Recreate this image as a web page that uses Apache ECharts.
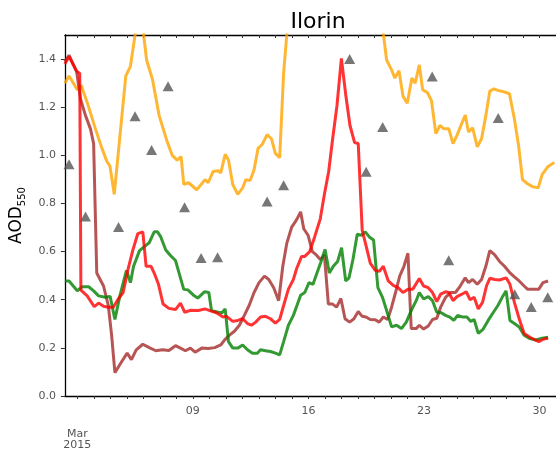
<!DOCTYPE html>
<html>
<head>
<meta charset="utf-8">
<script src="https://cdn.jsdelivr.net/npm/echarts@6/dist/echarts.min.js"></script>
<style>html,body{margin:0;padding:0;background:#fff;}#c{width:556px;height:451px;}</style>
</head>
<body>
<div id="c"></div>
<script>
// ---- data (x = day of March 2015, y = AOD550) ----
const orangeX = [1.25,1.50,2.00,2.24,2.60,3.10,3.49,3.79,3.98,4.24,4.94,5.22,5.50,5.75,6.02,6.20,6.56,6.96,7.45,7.75,8.05,8.29,8.45,8.74,9.24,9.74,9.93,10.23,10.53,10.69,10.96,11.16,11.42,11.72,12.02,12.21,12.47,12.71,12.95,13.20,13.50,13.76,14.00,14.26,14.50,14.69,15.0,16.0,17.0,18.0,19.0,20.0,20.55,20.74,21.04,21.24,21.49,21.73,21.99,22.27,22.47,22.72,22.92,23.22,23.46,23.72,23.97,24.21,24.51,24.76,25.00,25.24,25.50,25.70,25.95,26.23,26.49,26.75,26.99,27.24,27.48,27.88,28.18,28.48,28.73,28.97,29.27,29.61,29.92,30.16,30.52,30.9];
const orangeY = [1.30,1.33,1.273,1.29,1.22,1.11,1.03,0.975,0.955,0.838,1.33,1.37,1.50,1.65,1.50,1.396,1.314,1.165,1.056,1.00,0.98,0.995,0.879,0.886,0.857,0.899,0.886,0.933,0.936,0.927,1.004,0.981,0.879,0.838,0.865,0.899,0.895,0.94,1.029,1.045,1.086,1.069,1.008,0.99,1.342,1.50,1.75,1.95,2.05,2.0,1.9,1.7,1.50,1.396,1.355,1.321,1.352,1.246,1.216,1.321,1.30,1.376,1.273,1.26,1.226,1.09,1.124,1.11,1.11,1.049,1.083,1.124,1.167,1.097,1.114,1.035,1.069,1.165,1.267,1.276,1.27,1.263,1.256,1.151,1.042,0.899,0.882,0.869,0.865,0.92,0.954,0.97];

const redX = [1.25,1.50,1.96,2.15,2.22,2.60,3.03,3.29,3.59,3.88,4.18,4.48,4.78,5.07,5.37,5.67,5.97,6.17,6.47,6.66,6.92,7.20,7.55,7.95,8.25,8.51,8.85,9.34,9.74,10.03,10.43,10.83,11.02,11.42,11.72,12.02,12.31,12.55,12.81,13.10,13.40,13.70,14.00,14.26,14.50,14.79,15.09,15.29,15.59,15.78,16.08,16.38,16.72,16.97,17.23,17.47,17.73,18.00,18.26,18.52,18.80,19.02,19.26,19.51,19.75,20.05,20.30,20.54,20.84,21.14,21.43,21.73,22.03,22.33,22.72,22.98,23.26,23.52,23.78,24.01,24.31,24.51,24.76,25.00,25.30,25.56,25.80,26.04,26.29,26.55,26.79,26.99,27.29,27.58,27.98,28.21,28.48,28.77,29.07,29.47,29.96,30.26,30.52];
const redY = [1.38,1.41,1.35,1.34,0.44,0.416,0.371,0.386,0.373,0.369,0.369,0.403,0.43,0.525,0.607,0.675,0.682,0.539,0.539,0.511,0.464,0.382,0.364,0.359,0.386,0.348,0.356,0.355,0.362,0.355,0.346,0.328,0.332,0.31,0.314,0.321,0.301,0.294,0.307,0.328,0.331,0.321,0.303,0.318,0.376,0.444,0.484,0.530,0.58,0.58,0.60,0.661,0.736,0.838,0.933,1.069,1.205,1.403,1.253,1.124,1.053,1.049,0.689,0.62,0.552,0.522,0.518,0.539,0.478,0.46,0.45,0.43,0.444,0.444,0.488,0.457,0.45,0.43,0.392,0.423,0.433,0.43,0.396,0.413,0.423,0.433,0.40,0.41,0.362,0.389,0.457,0.489,0.484,0.482,0.491,0.464,0.389,0.321,0.26,0.242,0.226,0.237,0.24];

const greenX = [1.25,1.50,2.00,2.30,2.69,2.99,3.29,3.69,3.99,4.28,4.58,4.98,5.22,5.41,5.77,6.17,6.36,6.66,6.86,7.06,7.36,7.66,7.95,8.25,8.45,8.70,9.04,9.30,9.70,9.97,10.13,10.53,10.77,10.96,11.16,11.42,11.72,12.02,12.31,12.61,12.91,13.10,13.40,13.70,14.00,14.26,14.50,14.79,15.09,15.33,15.53,15.78,16.04,16.28,16.52,16.77,17.01,17.27,17.51,17.77,18.01,18.26,18.46,18.70,18.96,19.21,19.45,19.69,19.95,20.21,20.49,20.74,21.04,21.34,21.64,21.93,22.23,22.53,22.72,22.98,23.26,23.52,23.78,24.05,24.31,24.57,24.81,25.04,25.36,25.60,25.84,26.04,26.29,26.59,26.89,27.19,27.48,27.74,27.98,28.21,28.48,28.77,29.07,29.37,29.76,30.16,30.52];
const greenY = [0.478,0.478,0.437,0.454,0.454,0.437,0.416,0.41,0.414,0.318,0.416,0.522,0.471,0.539,0.604,0.627,0.637,0.682,0.682,0.661,0.607,0.583,0.563,0.491,0.443,0.441,0.419,0.407,0.433,0.43,0.355,0.348,0.346,0.362,0.226,0.199,0.199,0.212,0.192,0.178,0.178,0.192,0.188,0.185,0.178,0.171,0.226,0.294,0.335,0.38,0.419,0.43,0.471,0.464,0.511,0.559,0.609,0.511,0.539,0.559,0.616,0.478,0.491,0.567,0.672,0.668,0.682,0.661,0.648,0.45,0.41,0.355,0.287,0.294,0.28,0.307,0.355,0.396,0.43,0.403,0.413,0.396,0.348,0.346,0.335,0.328,0.314,0.335,0.328,0.328,0.31,0.318,0.26,0.278,0.314,0.346,0.376,0.41,0.437,0.314,0.301,0.287,0.253,0.24,0.233,0.24,0.244];

const brownX = [1.25,1.50,1.96,2.20,2.50,2.80,2.99,3.18,3.59,3.88,4.08,4.28,4.58,5.02,5.28,5.57,5.97,6.36,6.76,7.16,7.55,7.95,8.25,8.55,8.85,9.14,9.54,9.93,10.33,10.69,10.93,11.22,11.52,11.82,12.12,12.41,12.71,13.01,13.34,13.60,13.90,14.20,14.45,14.69,14.99,15.29,15.53,15.72,15.98,16.24,16.48,16.72,16.97,17.21,17.47,17.71,17.97,18.22,18.50,18.76,19.02,19.26,19.49,19.75,20.05,20.29,20.54,20.80,21.04,21.28,21.53,21.79,22.03,22.23,22.53,22.72,22.98,23.26,23.52,23.78,24.01,24.31,24.61,24.91,25.20,25.50,25.70,25.95,26.23,26.49,26.75,26.99,27.29,27.58,27.88,28.18,28.48,28.77,29.07,29.27,29.67,29.96,30.21,30.52];
const brownY = [1.389,1.416,1.348,1.233,1.165,1.11,1.049,0.511,0.457,0.376,0.253,0.097,0.131,0.178,0.151,0.192,0.215,0.201,0.188,0.192,0.189,0.209,0.199,0.188,0.199,0.182,0.199,0.197,0.201,0.212,0.233,0.253,0.269,0.294,0.335,0.376,0.43,0.471,0.498,0.484,0.45,0.396,0.539,0.634,0.702,0.733,0.765,0.695,0.668,0.60,0.586,0.567,0.586,0.382,0.382,0.369,0.405,0.321,0.307,0.321,0.351,0.331,0.328,0.318,0.317,0.307,0.328,0.318,0.369,0.43,0.498,0.539,0.593,0.28,0.28,0.294,0.278,0.291,0.318,0.323,0.369,0.41,0.43,0.43,0.457,0.491,0.471,0.484,0.464,0.484,0.539,0.604,0.586,0.559,0.539,0.514,0.495,0.478,0.457,0.444,0.444,0.444,0.471,0.478];

const obsX = [1.5,2.5,4.5,5.5,6.5,7.5,8.5,9.5,10.5,13.5,14.5,18.5,19.5,20.5,23.5,24.5,27.5,28.5,29.5,30.5];
const obsY = [0.963,0.746,0.702,1.162,1.022,1.287,0.784,0.573,0.577,0.808,0.876,1.40,0.932,1.118,1.328,0.564,1.155,0.423,0.37,0.41];

const dayTicks = [2,3,4,5,6,7,8,9,10,11,12,13,14,15,16,17,18,19,20,21,22,23,24,25,26,27,28,29,30,31];
const dayLabels = [2,9,16,23,30];
const yTicks = [0,0.2,0.4,0.6,0.8,1.0,1.2,1.4];

const zip = (xs, ys) => xs.map((x, i) => [x, ys[i]]);
const FONT = 'DejaVu Sans';

const chart = echarts.init(document.getElementById('c'), null, {renderer: 'canvas'});
const lineSeries = (name, xs, ys, color) => ({
  name, type: 'line', data: zip(xs, ys), showSymbol: false, symbol: 'none',
  lineStyle: {width: 3, color: color}, clip: true, animation: false
});
chart.setOption({
  backgroundColor: '#fff',
  animation: false,
  title: {
    text: 'Ilorin', left: 313, top: 6, textAlign: 'center',
    textStyle: {fontFamily: FONT, fontSize: 22, fontWeight: 'normal', color: '#000'}
  },
  grid: {left: 64, top: 35, width: 499, height: 367, containLabel: false},
  xAxis: [{
    type: 'value', position: 'bottom', min: 1.25, max: 31,
    axisLine: {show: true, onZero: false, lineStyle: {color: '#000', width: 1.3}},
    axisTick: {show: true, customValues: dayTicks, length: 3, lineStyle: {color: '#333'}},
    axisLabel: {
      customValues: dayLabels, color: '#555', fontSize: 11, fontFamily: FONT, margin: 9, lineHeight: 11.5,
      formatter: v => (v === 2 ? '\n\nMar\n2015' : String(v).padStart(2, '0'))
    },
    splitLine: {show: false}
  }, {
    type: 'value', position: 'top', min: 1.25, max: 31,
    axisLine: {show: true, onZero: false, lineStyle: {color: '#000', width: 1.3}},
    axisTick: {show: true, inside: true, customValues: dayTicks, length: 3, lineStyle: {color: '#333'}},
    axisLabel: {show: false},
    splitLine: {show: false}
  }],
  yAxis: {
    type: 'value', min: 0, max: 1.5,
    name: '{a|AOD}{b|550}', nameLocation: 'middle', nameGap: 28, nameRotate: 90,
    nameTextStyle: {
      fontFamily: FONT, color: '#000',
      rich: {
        a: {fontFamily: FONT, fontSize: 17, lineHeight: 22, color: '#000'},
        b: {fontFamily: FONT, fontSize: 10, lineHeight: 10, verticalAlign: 'bottom', color: '#000'}
      }
    },
    axisLine: {show: true, onZero: false, lineStyle: {color: '#000', width: 1.3}},
    axisTick: {show: true, customValues: yTicks, length: 4, lineStyle: {color: '#333'}},
    axisLabel: {customValues: yTicks, color: '#555', fontSize: 11, fontFamily: FONT, margin: 9,
      formatter: v => v.toFixed(1)},
    splitLine: {show: false}
  },
  series: [
    lineSeries('orange', orangeX, orangeY, 'rgba(255,165,0,0.8)'),
    lineSeries('brown', brownX, brownY, 'rgba(165,42,42,0.8)'),
    lineSeries('green', greenX, greenY, 'rgba(0,128,0,0.8)'),
    lineSeries('red', redX, redY, 'rgba(255,0,0,0.8)'),
    {
      name: 'obs', type: 'scatter', data: zip(obsX, obsY), symbol: 'triangle', symbolSize: [11, 10],
      itemStyle: {color: '#555'}, z: 5, clip: false
    }
  ]
});
</script>
</body>
</html>
